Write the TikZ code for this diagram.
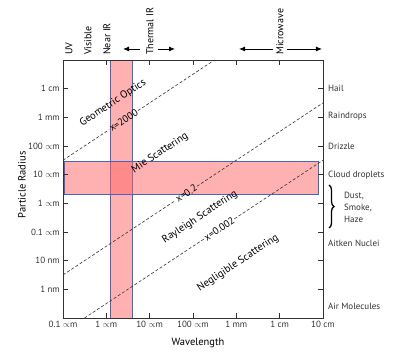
\documentclass[tikz,border=0pt]{standalone}
\usepackage{fontspec}
\setmainfont{PT Sans}
\usetikzlibrary{arrows.meta, positioning, decorations.pathreplacing}
\definecolor{bandpink}{RGB}{255, 100, 100}
\definecolor{bandblue}{RGB}{70, 100, 200}
\definecolor{axisgray}{RGB}{50, 50, 50}
\newcommand{\um}{$\propto$m}

\begin{document}
\begin{tikzpicture}[
  x=43.33pt, y=28.67pt,
  frame/.style={draw=axisgray, line width=0.9pt},
  band/.style={draw=bandblue, line width=0.7pt, fill=bandpink, fill opacity=0.5},
  sizeline/.style={draw=axisgray, line width=0.6pt, dash pattern=on 3pt off 2pt},
  arr/.style={-{Latex[length=6pt, width=5pt]}, line width=0.9pt, color=black},
  ticklbl/.style={font=\fontsize{9}{11}\selectfont, text=axisgray, inner sep=1pt},
  sizelbl/.style={font=\fontsize{10}{12}\selectfont, text=black, inner sep=1pt, sloped},
  region/.style={font=\fontsize{10.5}{12}\selectfont, text=black, rotate=33.49, inner sep=0pt},
  band lbl/.style={font=\fontsize{10}{12}\selectfont, text=black, rotate=90, anchor=west, inner sep=1pt},
  axislbl/.style={font=\fontsize{10.5}{12}\selectfont, text=black}
]
  \useasboundingbox (-63pt,-44pt) rectangle (342pt,318pt);

  \path[band] (1.085,0) rectangle (1.592,9);
  \path[band] (0.02,4.325) rectangle (5.885,5.476);

  \draw[frame] (0,0) rectangle (6,9);
  \foreach \i in {1,...,5} {
    \draw[frame] (\i,0) -- ++(0,5pt);
    \draw[frame] (\i,9) -- ++(0,-5pt);
  }
  \foreach \j in {1,...,8} {
    \draw[frame] (0,\j) -- ++(5pt,0);
    \draw[frame] (6,\j) -- ++(-5pt,0);
  }

  \foreach \i/\t in {0/0.1 \um, 1/1 \um, 2/10 \um, 3/100 \um, 4/1 mm, 5/1 cm, 6/10 cm}
    \node[ticklbl, anchor=north] (wl\i) at ([yshift=-2pt]\i,0) {\t};
  \foreach \j/\t in {1/1 nm, 2/10 nm, 3/0.1 \um, 4/1 \um, 5/10 \um, 6/100 \um, 7/1 mm, 8/1 cm}
    \node[ticklbl, anchor=east] (rad\j) at ([xshift=-2pt]0,\j) {\t};

  \node[ticklbl, anchor=west] (hail)   at ([xshift=4pt]6,8)    {Hail};
  \node[ticklbl, anchor=west] (rain)   at ([xshift=4pt]6,7.05) {Raindrops};
  \node[ticklbl, anchor=west] (drz)    at ([xshift=4pt]6,6)    {Drizzle};
  \node[ticklbl, anchor=west] (cloud)  at ([xshift=4pt]6,4.99) {Cloud droplets};
  \node[ticklbl, anchor=west] (aitken) at ([xshift=4pt]6,2.62) {Aitken Nuclei};
  \node[ticklbl, anchor=west] (air)    at ([xshift=4pt]6,0.42) {Air Molecules};
  \coordinate (bracetop) at (6.139,4.64);
  \coordinate (bracebot) at (6.139,3.14);
  \draw[line width=1.3pt, decorate, decoration={brace, amplitude=5pt}] (bracetop) -- (bracebot);
  \node[ticklbl, anchor=west, align=left, font=\fontsize{9}{12}\selectfont] (dust) at (6.46,3.87) {Dust,\\Smoke,\\Haze};

  \node[band lbl] (uv)      at ([yshift=4pt]0.135,9) {UV};
  \node[band lbl] (vis)     at ([yshift=4pt]0.577,9) {Visible};
  \node[band lbl] (nir)     at ([yshift=4pt]1.015,9) {Near IR};
  \node[band lbl] (tir)     at ([yshift=4pt]2.008,9) {Thermal IR};
  \node[band lbl] (micro)   at ([yshift=4pt]5.008,9) {Microwave};
  \coordinate (tirA) at ([yshift=11pt]1.777,9);
  \coordinate (tirB) at ([yshift=11pt]1.385,9);
  \coordinate (tirC) at ([yshift=11pt]2.192,9);
  \coordinate (tirD) at ([yshift=11pt]2.585,9);
  \coordinate (mwA)  at ([yshift=11pt]4.846,9);
  \coordinate (mwB)  at ([yshift=11pt]4.062,9);
  \coordinate (mwC)  at ([yshift=11pt]5.170,9);
  \coordinate (mwD)  at ([yshift=11pt]5.977,9);
  \draw[arr] (tirA) -- (tirB);
  \draw[arr] (tirC) -- (tirD);
  \draw[arr] (mwA) -- (mwB);
  \draw[arr] (mwC) -- (mwD);

  \coordinate (geoA) at (0,5.503);
  \coordinate (geoB) at (3.497,9);
  \coordinate (mieA) at (0,1.503);
  \coordinate (mieB) at (6,7.503);
  \coordinate (rayA) at (0.497,0);
  \coordinate (rayB) at (6,5.503);
  \path (geoA) -- node[sizelbl, pos=0.40] (x2000) {x=2000} (geoB);
  \path (mieA) -- node[sizelbl, pos=0.474] (x02) {x=0.2} (mieB);
  \path (rayA) -- node[sizelbl, pos=0.565] (x0002) {x=0.002} (rayB);
  \draw[sizeline] (geoA) -- (x2000.west);
  \draw[sizeline] (x2000.east) -- (geoB);
  \draw[sizeline] (mieA) -- (x02.west);
  \draw[sizeline] (x02.east) -- (mieB);
  \draw[sizeline] (rayA) -- (x0002.west);
  \draw[sizeline] (x0002.east) -- (rayB);

  \node[region] (geo) at (1.154,7.5)  {Geometric Optics};
  \node[region] (mie) at (2.24,5.755) {Mie Scattering};
  \node[region] (ray) at (3.16,3.52)  {Rayleigh Scattering};
  \node[region] (neg) at (4.04,1.92)  {Negligible Scattering};

  \node[axislbl, rotate=90] (radius) at (-0.946,4.64) {Particle Radius};
  \node[axislbl] (wave) at (3.116,-0.872) {Wavelength};
\end{tikzpicture}
\end{document}
